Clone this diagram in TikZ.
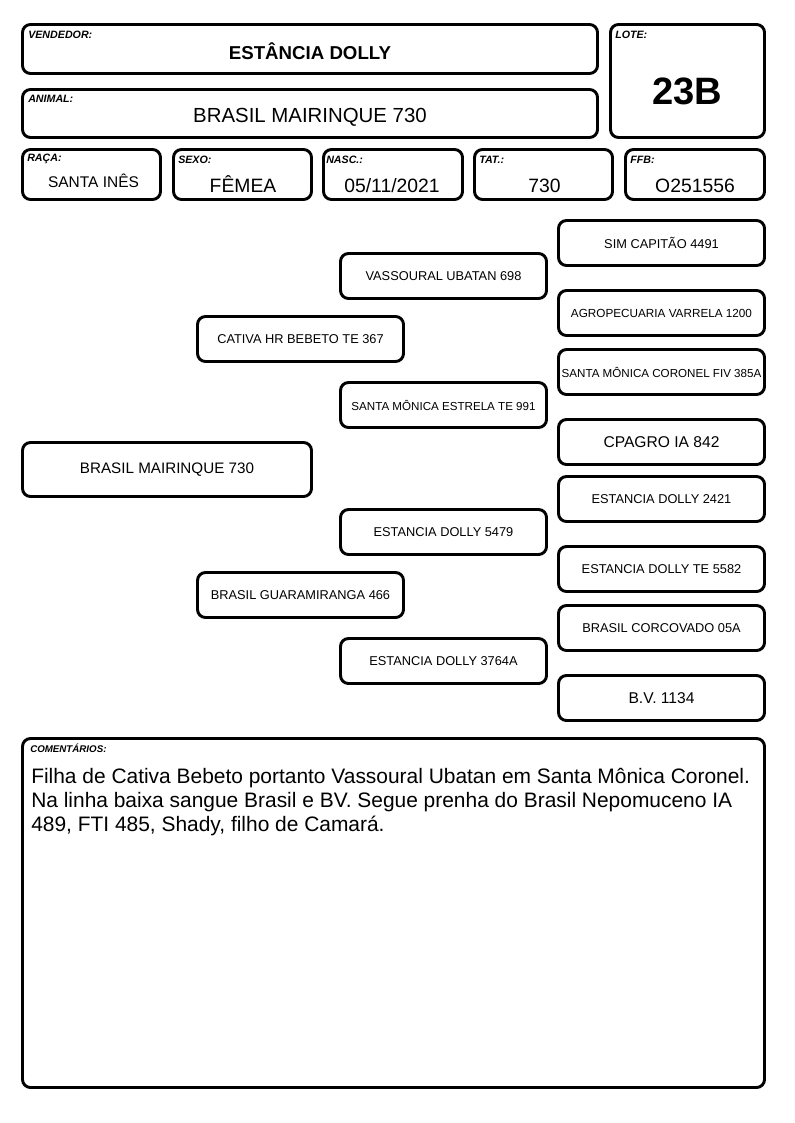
\documentclass[tikz,border=0pt]{standalone}
\usepackage{fontspec}
\setmainfont{Liberation Sans}
\usetikzlibrary{positioning}
\tikzset{
    card/.style={
        draw=black,
        rectangle,
        rounded corners=6pt,
        line width=2.2pt,
        inner sep=0pt,
        align=center
    },
    size/.style n args={2}{
        minimum width=#1*0.75pt,
        minimum height=#2*0.75pt
    },
    tag/.style={
        anchor=base west,
        inner sep=0pt,
        font=\fontsize{8}{9}\selectfont\bfseries\itshape
    },
    value/.style={
        anchor=base,
        inner sep=0pt,
        font=\fontsize{14.5}{16}\selectfont
    },
    ped/.style={
        card,
        size={206}{45},
        font=\fontsize{9.6}{11}\selectfont
    }
}

\begin{document}
\begin{tikzpicture}[x=0.75pt,y=-0.75pt]
    \useasboundingbox (0,0) rectangle (794,1123);

    % Header boxes
    \node[card, size={575}{49}] (vendedor) at (310,49) {};
    \node[tag] (vendedortag) at (28,39) {VENDEDOR:};
    \node[value, font=\fontsize{14}{16}\selectfont\bfseries] (vendedorval) at (310,59.5) {ESTÂNCIA DOLLY};

    \node[card, size={575}{48}] (animal) at (310,113.5) {};
    \node[tag] (animaltag) at (28,103) {ANIMAL:};
    \node[value, font=\fontsize{15.3}{17}\selectfont] (animalval) at (310,123) {BRASIL MAIRINQUE 730};

    \node[card, size={154}{113}] (lote) at (687.5,81) {};
    \node[tag] (lotetag) at (615,39) {LOTE:};
    \node[value, font=\fontsize{28.6}{30}\selectfont\bfseries] (loteval) at (687.5,104.5) {23B};

    % Data row
    \node[card, size={138}{50}] (raca) at (91.5,174.5) {};
    \node[tag] (racatag) at (27,162) {RAÇA:};
    \node[value, font=\fontsize{11.6}{13}\selectfont] (racaval) at (93.5,187.5) {SANTA INÊS};

    \node[card, size={138}{50}] (sexo) at (242.5,174.5) {};
    \node[tag] (sexotag) at (178,164) {SEXO:};
    \node[value] (sexoval) at (243,193) {FÊMEA};

    \node[card, size={139}{50}] (nasc) at (393,174.5) {};
    \node[tag] (nasctag) at (326,164) {NASC.:};
    \node[value] (nascval) at (392,193) {05/11/2021};

    \node[card, size={138}{50}] (tat) at (543.5,174.5) {};
    \node[tag] (tattag) at (479,164) {TAT.:};
    \node[value] (tatval) at (544.5,193) {730};

    \node[card, size={139}{50}] (ffb) at (695,174.5) {};
    \node[tag] (ffbtag) at (630,164) {FFB:};
    \node[value] (ffbval) at (695,193) {O251556};

    % Pedigree
    \node[card, size={289}{54}, font=\fontsize{11.4}{13}\selectfont] (self) at (167,469.5) {BRASIL MAIRINQUE 730};

    \node[ped] (sire) at (300.5,339) {CATIVA HR BEBETO TE 367};
    \node[ped] (dam) at (300.5,595) {BRASIL GUARAMIRANGA 466};

    \node[ped] (ss) at (443.5,276) {VASSOURAL UBATAN 698};
    \node[ped, font=\fontsize{8.7}{10}\selectfont] (sd) at (443.5,405) {SANTA MÔNICA ESTRELA TE 991};
    \node[ped] (ds) at (443.5,532) {ESTANCIA DOLLY 5479};
    \node[ped] (dd) at (443.5,661) {ESTANCIA DOLLY 3764A};

    \node[ped] (sss) at (661.5,243) {SIM CAPITÃO 4491};
    \node[ped, font=\fontsize{8.8}{10}\selectfont] (ssd) at (661.5,313) {AGROPECUARIA VARRELA 1200};
    \node[ped, font=\fontsize{8.7}{10}\selectfont] (sds) at (661.5,372) {SANTA MÔNICA CORONEL FIV 385A};
    \node[ped, font=\fontsize{11.7}{13}\selectfont] (sdd) at (661.5,442) {CPAGRO IA 842};
    \node[ped] (dss) at (661.5,499) {ESTANCIA DOLLY 2421};
    \node[ped] (dsd) at (661.5,569) {ESTANCIA DOLLY TE 5582};
    \node[ped] (dds) at (661.5,628) {BRASIL CORCOVADO 05A};
    \node[ped, font=\fontsize{11.7}{13}\selectfont] (ddd) at (661.5,698) {B.V. 1134};

    % Comments
    \node[card, size={742}{349}] (comentarios) at (393.5,913) {};
    \node[tag, font=\fontsize{7.3}{9}\selectfont\bfseries\itshape] (comentariostag) at (30,752) {COMENTÁRIOS:};
    \node[anchor=north west, inner sep=0pt, align=left, font=\fontsize{15.7}{18}\selectfont] (comentariosval) at (31,767.5)
        {Filha de Cativa Bebeto portanto Vassoural Ubatan em Santa Mônica Coronel.\\
         Na linha baixa sangue Brasil e BV. Segue prenha do Brasil Nepomuceno IA\\
         489, FTI 485, Shady, filho de Camará.};
\end{tikzpicture}
\end{document}
